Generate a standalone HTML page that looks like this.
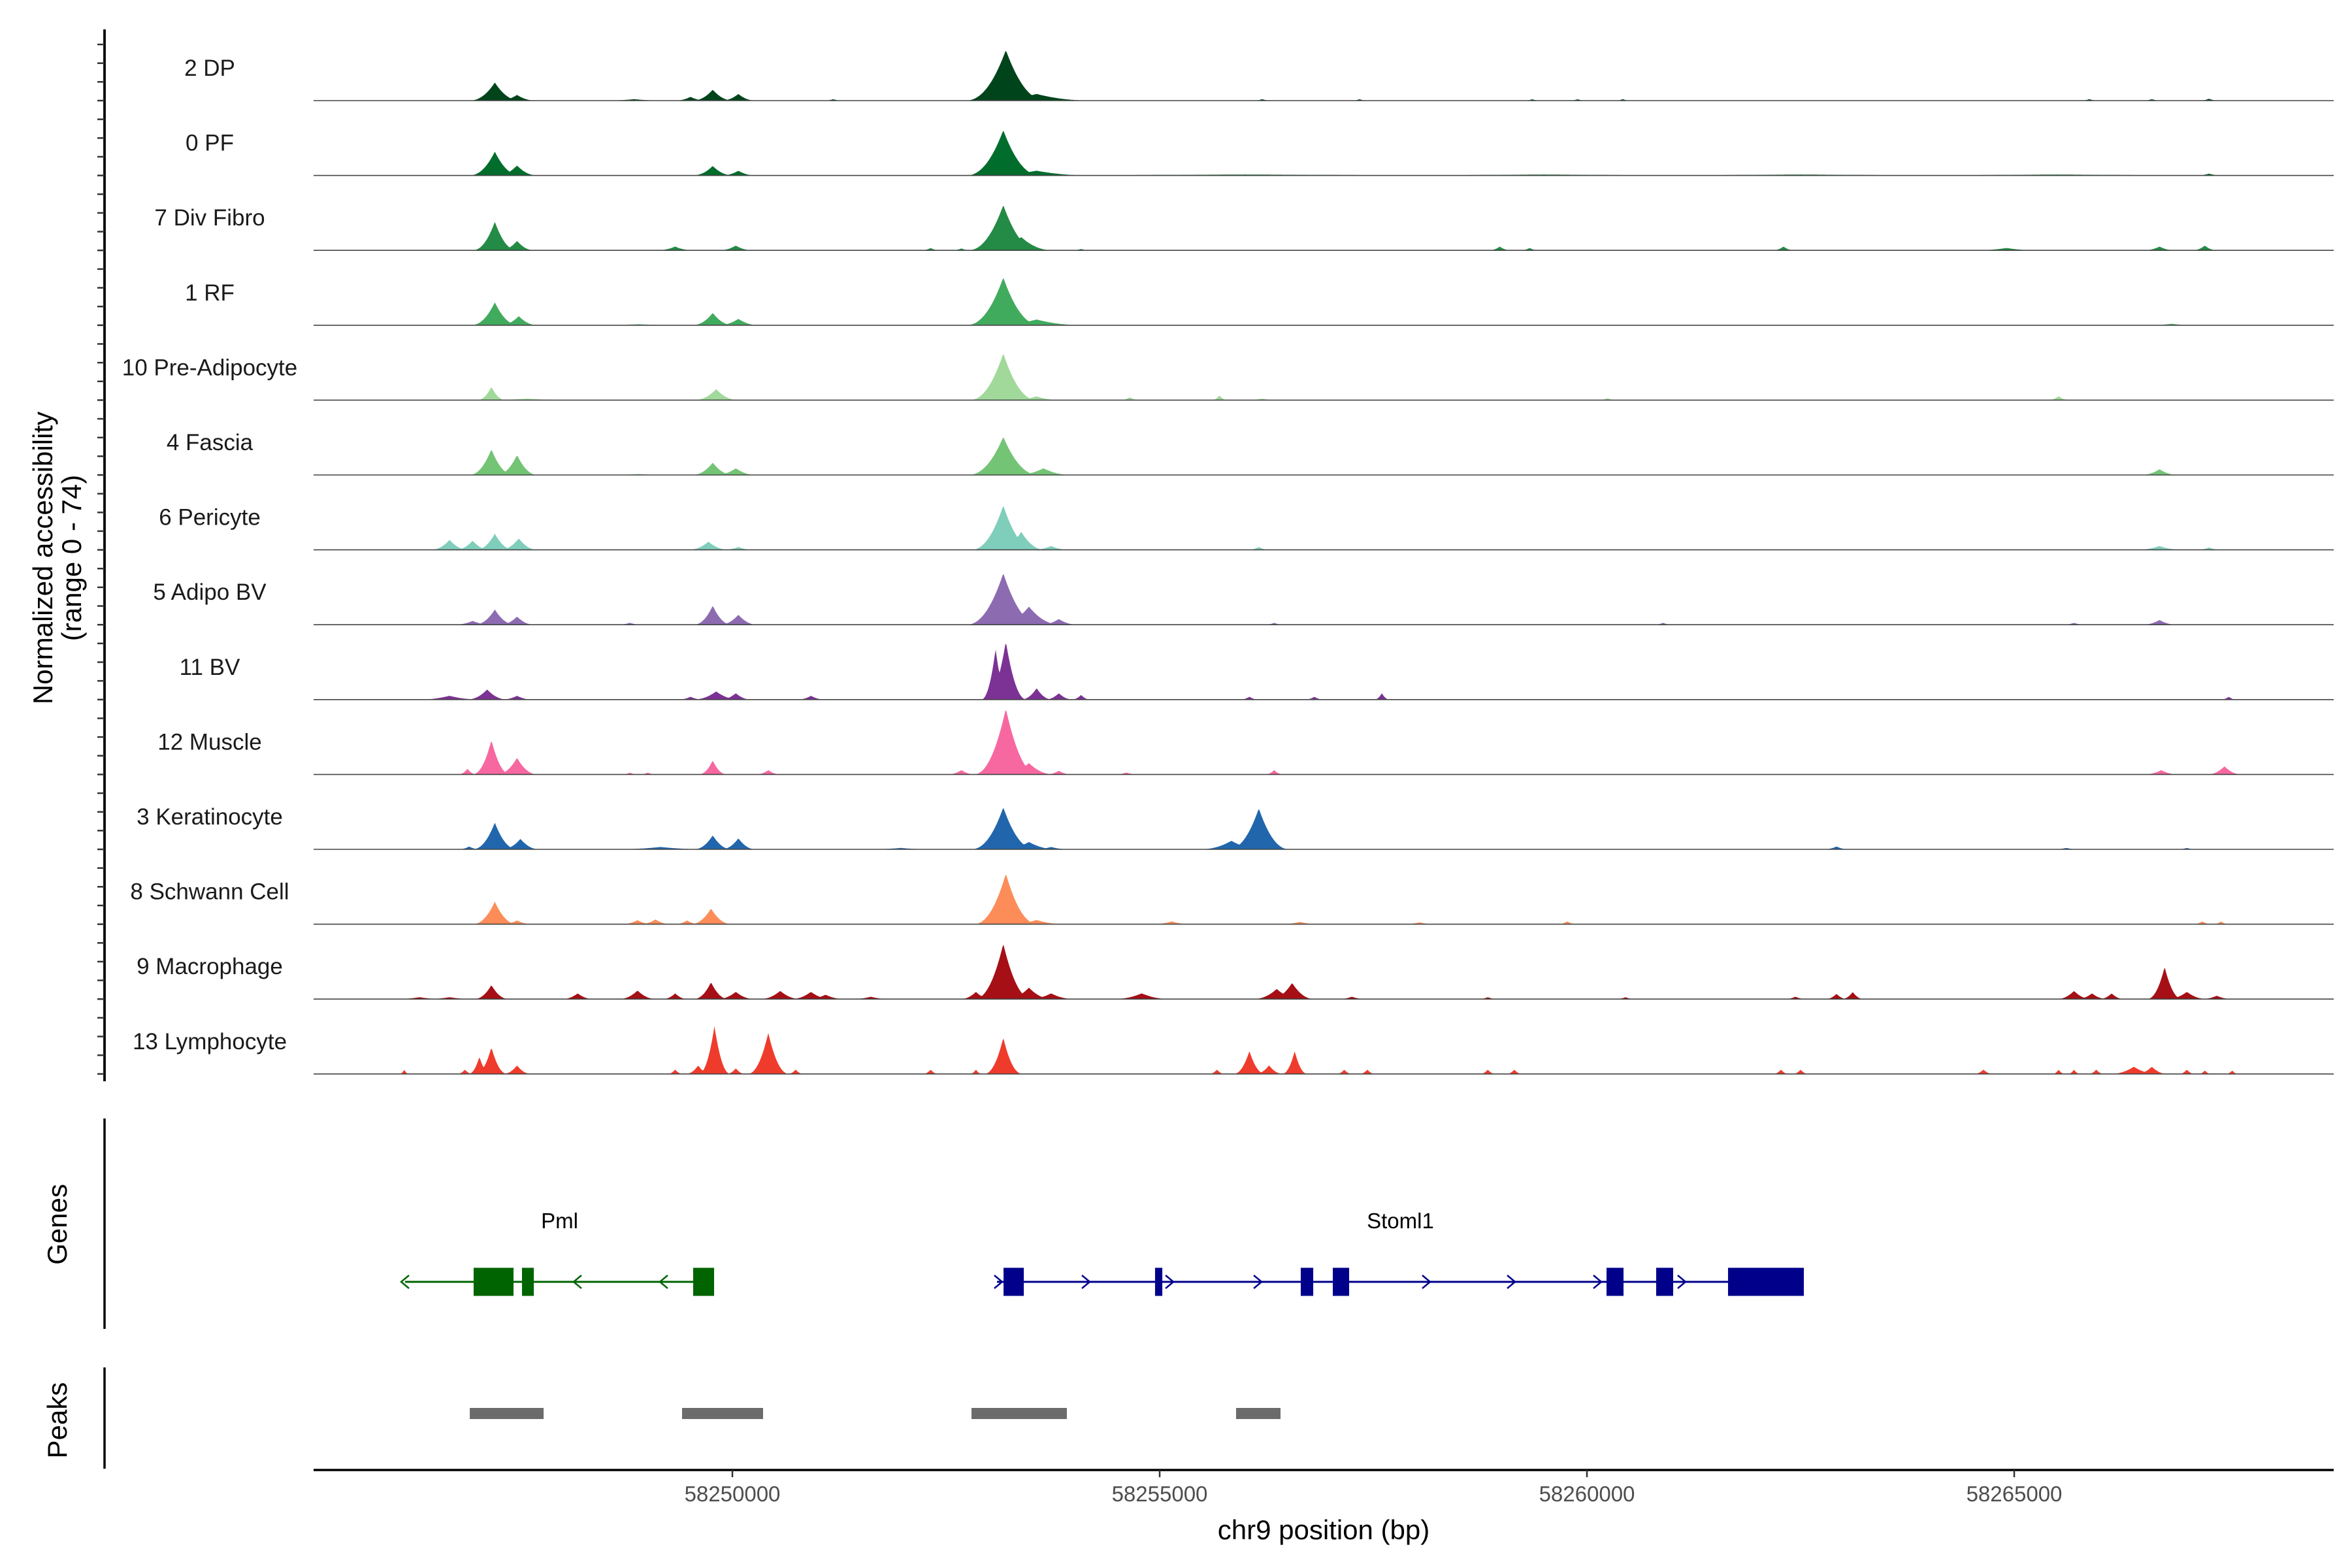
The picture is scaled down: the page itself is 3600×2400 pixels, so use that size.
<!DOCTYPE html>
<html><head><meta charset="utf-8">
<style>
html,body{margin:0;padding:0;background:#fff;}
svg{display:block;font-family:"Liberation Sans",Arial,sans-serif;}
</style></head>
<body>
<svg id="chart" width="3600" height="2400" viewBox="0 0 3600 2400" xmlns="http://www.w3.org/2000/svg">
<g id="tracks"></g>
<g id="yaxis"></g>
<text transform="translate(80,854) rotate(-90)" text-anchor="middle" font-size="42" fill="#000">Normalized accessibility</text>
<text transform="translate(124,854) rotate(-90)" text-anchor="middle" font-size="42" fill="#000">(range 0 - 74)</text>
<line x1="160" y1="1712" x2="160" y2="2034" stroke="#000" stroke-width="3.5"/>
<text transform="translate(102,1874) rotate(-90)" text-anchor="middle" font-size="42" fill="#000">Genes</text>
<g id="genes"></g>
<line x1="160" y1="2093" x2="160" y2="2248" stroke="#000" stroke-width="3.5"/>
<text transform="translate(102,2174) rotate(-90)" text-anchor="middle" font-size="42" fill="#000">Peaks</text>
<g id="peaks"></g>
<g id="xaxis"></g>
<text x="2026" y="2356" text-anchor="middle" font-size="42" fill="#000">chr9 position (bp)</text>
</svg>
<script>
// ---- data ----
const trackNames = ["2 DP","0 PF","7 Div Fibro","1 RF","10 Pre-Adipocyte","4 Fascia","6 Pericyte","5 Adipo BV","11 BV","12 Muscle","3 Keratinocyte","8 Schwann Cell","9 Macrophage","13 Lymphocyte"];
const trackColors = ["#00441b","#006d2c","#238b45","#41ab5d","#a1d99b","#74c476","#7fcdbb","#8c6bb1","#7b3294","#f768a1","#2166ac","#fc8d59","#a50f15","#ef3b2c"];
// peaks: [position kb offset from 58,200 kb, value (0-74), half width bp]
const cov_DP = [[47.22,19,160],[47.48,6,120],[48.85,1.5,200],[49.51,4,100],[49.77,11.5,130],[50.07,7,110],[53.20,53,250],[53.56,7,350],[51.18,1.5,60],[56.20,1.5,60],[57.34,1.5,50],[59.36,1.5,50],[59.89,1.5,50],[60.42,1.5,50],[65.88,1.5,60],[66.61,1.5,60],[67.28,2,60]];
const cov_PF = [[47.22,25,160],[47.48,10.5,130],[49.77,10,130],[50.07,5,110],[53.17,47.5,230],[53.56,5,350],[56.0,1,2200],[59.5,1,1500],[62.5,1,1500],[65.5,1,1500],[67.28,2,80]];
const cov_DF = [[47.22,30,140],[47.48,10,110],[49.33,4,120],[50.04,5,110],[52.32,2.5,60],[52.68,2,60],[53.17,47.5,220],[53.38,14,200],[54.08,1.5,60],[58.98,4,70],[59.33,2.5,60],[62.30,4,70],[64.91,2.5,200],[66.70,4,100],[67.23,5,80]];
const cov_RF = [[47.22,24,150],[47.50,9.6,120],[48.9,1,300],[49.77,13,130],[50.07,6.7,130],[53.17,50,230],[53.56,6,300],[66.84,1.5,150]];
const cov_PA = [[47.18,14,90],[47.6,1.5,300],[49.81,11.5,140],[53.17,49,210],[53.56,4,150],[54.65,3,60],[55.70,5,50],[56.2,1.5,100],[60.24,2,60],[65.52,4,70]];
const cov_FA = [[47.18,27,140],[47.48,21,130],[48.9,1,200],[49.77,13,130],[50.04,7,130],[53.17,40,220],[53.64,7,180],[66.70,6,120]];
const cov_PE = [[46.69,10.5,120],[46.96,9.6,110],[47.22,17,120],[47.50,12,120],[49.72,8.6,130],[50.07,3,100],[53.17,46.5,200],[53.38,19,150],[53.73,4,120],[56.16,3,70],[66.70,4,150],[67.28,2.5,80]];
const cov_AB = [[46.96,4,120],[47.22,16,130],[47.48,8.6,110],[48.80,2,80],[49.77,20,120],[50.07,10.5,120],[53.17,54,230],[53.47,19,200],[53.82,6,120],[56.34,2,60],[60.89,2,60],[65.70,2,70],[66.70,5,110]];
const cov_BV = [[46.69,4,200],[47.13,10.6,130],[47.48,4,100],[49.81,8.6,150],[50.04,6.7,100],[49.51,3,80],[50.92,4,90],[53.08,53,90],[53.20,61,130],[53.56,12,100],[53.82,6.7,90],[54.08,5,60],[56.05,3,60],[56.81,3,60],[57.60,6.7,50],[67.51,3,50]];
const cov_MU = [[46.90,6,60],[47.18,36,120],[47.48,17.5,130],[48.80,2,50],[49.01,2,50],[49.77,14.7,90],[50.42,4.6,80],[52.68,4.6,90],[53.20,69,200],[53.47,12,160],[53.82,4,80],[54.61,2,80],[56.34,4.6,60],[66.72,4.6,110],[67.46,8.6,110]];
const cov_KE = [[46.92,3,70],[47.22,28,140],[47.52,11,120],[49.16,2.5,300],[49.77,14.7,120],[50.07,11.6,110],[51.97,1.5,200],[53.17,44,200],[53.47,7.7,180],[53.73,2.5,120],[55.84,9,200],[56.16,43,190],[62.92,3,80],[65.61,1.5,80],[67.02,1.5,60]];
const cov_SC = [[47.22,23.6,140],[47.48,4,100],[48.89,4.3,100],[49.10,5,100],[49.47,4,80],[49.75,16.5,130],[53.20,53,200],[53.56,4.5,180],[55.14,3,120],[56.64,2.5,120],[58.04,2,100],[59.77,3,60],[67.20,3,60],[67.42,3,50]];
const cov_MA = [[46.34,2,150],[46.69,2,150],[47.18,14.7,110],[48.19,6,100],[48.89,9,120],[49.33,6,80],[49.75,17.7,110],[50.04,7.6,120],[50.56,8.6,130],[50.92,7.6,130],[51.09,4.6,120],[51.62,2.5,120],[52.85,7.6,100],[53.17,58,180],[53.47,12,150],[53.73,6,150],[54.79,6,180],[56.37,10.7,150],[56.55,17,140],[57.25,2.5,90],[58.84,2,60],[60.45,2,60],[62.44,2.5,70],[62.92,5.5,70],[63.11,7.6,70],[65.70,8.6,110],[65.91,6,100],[66.14,6,80],[66.76,33.6,110],[67.02,7.6,130],[67.37,3.5,100]];
const cov_LY = [[46.16,4.6,30],[46.87,4.6,50],[47.04,18,70],[47.18,28,100],[47.48,9,90],[49.33,4.6,50],[49.60,9,80],[49.79,50,100],[50.04,6,60],[50.42,43,130],[50.74,4.6,50],[52.32,4.6,50],[52.85,4.6,40],[53.17,38,120],[55.67,4.6,50],[56.05,24,100],[56.28,9,90],[56.58,24,80],[57.16,4.6,50],[57.43,4.6,50],[58.84,4.6,50],[59.15,4.6,50],[62.27,4.6,50],[62.50,4.6,50],[64.64,4.6,60],[65.52,4.6,40],[65.70,4.6,40],[65.96,4.6,50],[66.40,7.6,150],[66.61,7.6,100],[67.02,4.6,50],[67.23,3.7,40],[67.55,3.7,40]];
const coverage = [cov_DP,cov_PF,cov_DF,cov_RF,cov_PA,cov_FA,cov_PE,cov_AB,cov_BV,cov_MU,cov_KE,cov_SC,cov_MA,cov_LY];
const geneNames = ["Pml","Stoml1"];
const geneStarts = [58246170,58253096];
const geneEnds = [58249786,58262538];
const geneStrands = [-1,1];
const pmlExons = [[58246972,58247439],[58247538,58247676],[58249541,58249786]];
const stomlExons = [[58253173,58253410],[58254946,58255031],[58256651,58256797],[58257026,58257217],[58260229,58260428],[58260810,58261009],[58261651,58262538]];
const pmlArrows = [58246170,58248188,58249197];
const stomlArrows = [58253111,58254136,58255115,58256147,58258119,58259113,58260122,58261108];
const peakStarts = [58246927,58249411,58252798,58255894];
const peakEnds = [58247791,58250359,58253914,58256414];
const xTicks = [58250000,58255000,58260000,58265000];
const xTickLabels = ["58250000","58255000","58260000","58265000"];

// ---- scales ----
const NS="http://www.w3.org/2000/svg";
const X0=480, X1=3572;
function xs(bp){return 1121+(bp-58250000)*0.1308;}
const trackTop0=154, trackStep=114.6, pxPerUnit=1.46;
const widthFactor=1.9, shapePow=2.2;
function mk(tag,attrs,parent){const e=document.createElementNS(NS,tag);for(const k in attrs)e.setAttribute(k,attrs[k]);parent.appendChild(e);return e;}

const tg=document.getElementById('tracks');
coverage.forEach((peaks,i)=>{
  const base=trackTop0+i*trackStep;
  const g=mk('g',{},tg);
  
  
  let d='M'+X0+','+base;
  for(let px=X0;px<=X1;px+=1.5){
    let v=0;
    for(const p of peaks){
      const c=58200000+p[0]*1000, w=p[2]*widthFactor;
      const dd=Math.abs(xs(c)-px)/(w*0.1308);
      if(dd<1){const h=p[1]*Math.pow(1-dd,shapePow);if(h>v)v=h;}
    }
    d+=' L'+px.toFixed(1)+','+(base-v*pxPerUnit).toFixed(1);
  }
  d+=' L'+X1+','+base+' Z';
  const a=mk('path',{d:d,fill:trackColors[i]},g);
  
  
  const l=mk('line',{x1:X0,x2:X1,y1:base,y2:base,stroke:'#444','stroke-width':1.6},g);
  
  
  const t=mk('text',{x:321,y:base-38,'text-anchor':'middle','font-size':35,fill:'#1a1a1a'},g);
  t.textContent=trackNames[i];
  
  
});

// y axis
const ya=document.getElementById('yaxis');
mk('line',{x1:160,y1:45,x2:160,y2:1655,stroke:'#000','stroke-width':3.8},ya);
for(let y=trackTop0-3*trackStep/4;y<=1652;y+=trackStep/4){
  mk('line',{x1:149,x2:160,y1:y,y2:y,stroke:'#333','stroke-width':2.5},ya);
}

// genes
const gg=document.getElementById('genes');
const GY=1962;
const geneCols=["#006400","#00008b"];
const exonSets=[pmlExons,stomlExons];
const arrowSets=[pmlArrows,stomlArrows];
geneNames.forEach((n,i)=>{
  const g=mk('g',{},gg);
  
  
  mk('line',{x1:xs(geneStarts[i]),x2:xs(geneEnds[i]),y1:GY,y2:GY,stroke:geneCols[i],'stroke-width':3},g);
  exonSets[i].forEach(e=>{
    const r=mk('rect',{x:xs(e[0]),y:GY-21.5,width:xs(e[1])-xs(e[0]),height:43,fill:geneCols[i]},g);
    
    
  });
  arrowSets[i].forEach(a=>{
    const x=xs(a), s=geneStrands[i]*6;
    mk('polyline',{points:(x-s)+','+(GY-10)+' '+(x+s)+','+GY+' '+(x-s)+','+(GY+10),fill:'none',stroke:geneCols[i],'stroke-width':2.5},g);
  });
  const t=mk('text',{x:(xs(geneStarts[i])+xs(geneEnds[i]))/2,y:1880,'text-anchor':'middle','font-size':33,fill:'#000'},g);
  t.textContent=n;
  
  
});

// peaks
const pg=document.getElementById('peaks');
peakStarts.forEach((s,i)=>{
  const r=mk('rect',{x:xs(s),y:2155,width:xs(peakEnds[i])-xs(s),height:17,fill:'#6b6b6b'},pg);
  
  
});

// x axis
const xa=document.getElementById('xaxis');
mk('line',{x1:X0,x2:X1,y1:2250,y2:2250,stroke:'#000','stroke-width':3.5},xa);
xTicks.forEach((t,i)=>{
  mk('line',{x1:xs(t),x2:xs(t),y1:2250,y2:2261,stroke:'#333','stroke-width':2.5},xa);
  const tx=mk('text',{x:xs(t),y:2298,'text-anchor':'middle','font-size':33,fill:'#4d4d4d'},xa);
  tx.textContent=xTickLabels[i];
  
  
});
</script>
</body></html>
